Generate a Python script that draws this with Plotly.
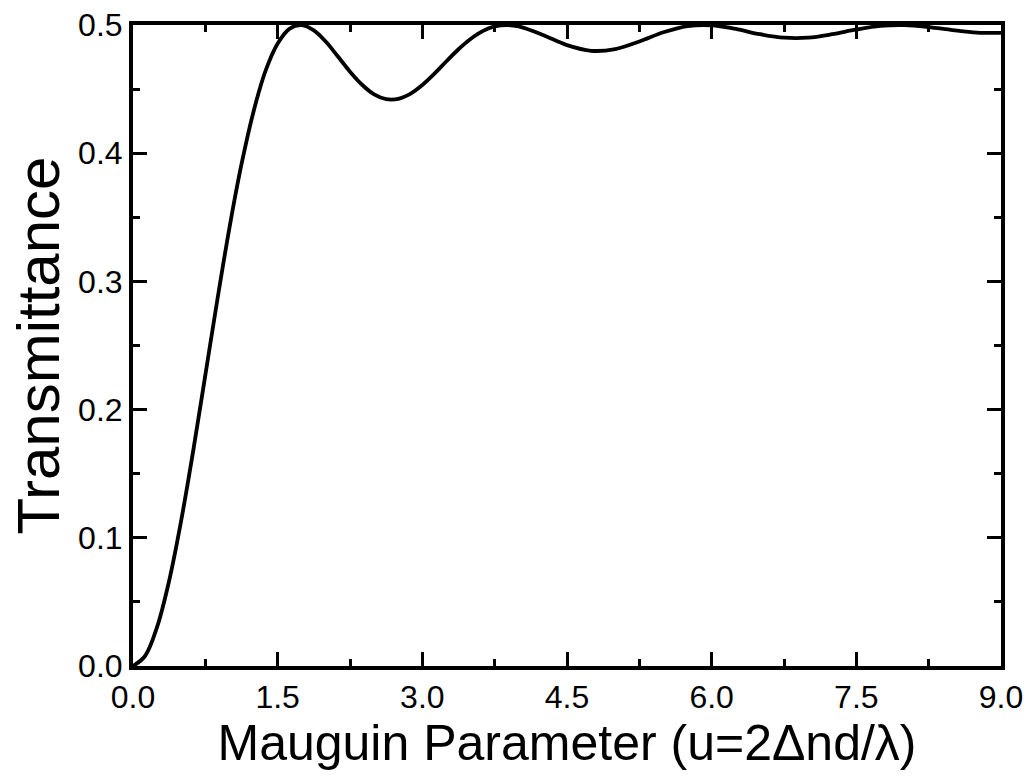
import plotly.graph_objects as go

# Values
mauguin_u = [0.0, 0.125, 0.25, 0.375, 0.5, 0.625, 0.75, 0.875, 1.0, 1.125, 1.25,
             1.375, 1.5, 1.625, 1.75, 1.875, 2.0, 2.125, 2.25, 2.375, 2.5, 2.625,
             2.75, 2.875, 3.0, 3.125, 3.25, 3.375, 3.5, 3.625, 3.75, 3.875,
             4.0, 4.25, 4.5, 4.75, 5.0, 5.25, 5.5, 5.75,
             6.0, 6.25, 6.5, 6.75, 7.0, 7.25, 7.5, 7.75, 8.0, 8.25, 8.5, 8.75, 9.0]
transmittance = [0.0, 0.0078, 0.0305, 0.0666, 0.1136, 0.1682, 0.2269, 0.2859,
                 0.3418, 0.3914, 0.4326, 0.4644, 0.4856, 0.4972, 0.4999, 0.4958,
                 0.4869, 0.4754, 0.4636, 0.4534, 0.4459, 0.4422, 0.4424, 0.4463,
                 0.4532, 0.4620, 0.4717, 0.4811, 0.4891, 0.4952, 0.4989, 0.5000,
                 0.4989, 0.4922, 0.4843, 0.4799, 0.4812, 0.4871, 0.4943, 0.4991,
                 0.4998, 0.4969, 0.4928, 0.4901, 0.4901, 0.4928, 0.4965, 0.4993,
                 0.4999, 0.4984, 0.4960, 0.4941, 0.4939]

x_title = "Mauguin Parameter (u=2\u0394nd/\u03bb)"
y_title = "Transmittance"

font_main = "Liberation Sans, Arial, sans-serif"

fig = go.Figure()
fig.add_trace(go.Scatter(
    x=mauguin_u, y=transmittance, mode="lines",
    line=dict(color="black", width=3.8, shape="spline", smoothing=1.0),
    showlegend=False,
))

axis_common = dict(
    showline=True, linecolor="black", linewidth=4, mirror="ticks",
    ticks="inside", ticklen=14, tickwidth=3, tickcolor="black",
    showgrid=False, zeroline=False,
    tickfont=dict(family=font_main, size=32, color="black"),
)

fig.update_xaxes(
    range=[0, 9], tick0=0, dtick=1.5, tickformat=".1f",
    minor=dict(ticks="inside", dtick=0.75, ticklen=7, tickwidth=3, tickcolor="black"),
    title=dict(text=x_title, font=dict(family=font_main, size=50, color="black"), standoff=8),
    **axis_common,
)
fig.update_yaxes(
    range=[0, 0.5], tick0=0, dtick=0.1, tickformat=".1f",
    minor=dict(ticks="inside", dtick=0.05, ticklen=7, tickwidth=3, tickcolor="black"),
    title=dict(text=y_title, font=dict(family=font_main, size=60, color="black"), standoff=0),
    **axis_common,
)

fig.update_layout(
    width=1030, height=780,
    margin=dict(l=133, r=29, t=25, b=114, autoexpand=False),
    paper_bgcolor="white", plot_bgcolor="white",
)

fig.write_html("out.html")
